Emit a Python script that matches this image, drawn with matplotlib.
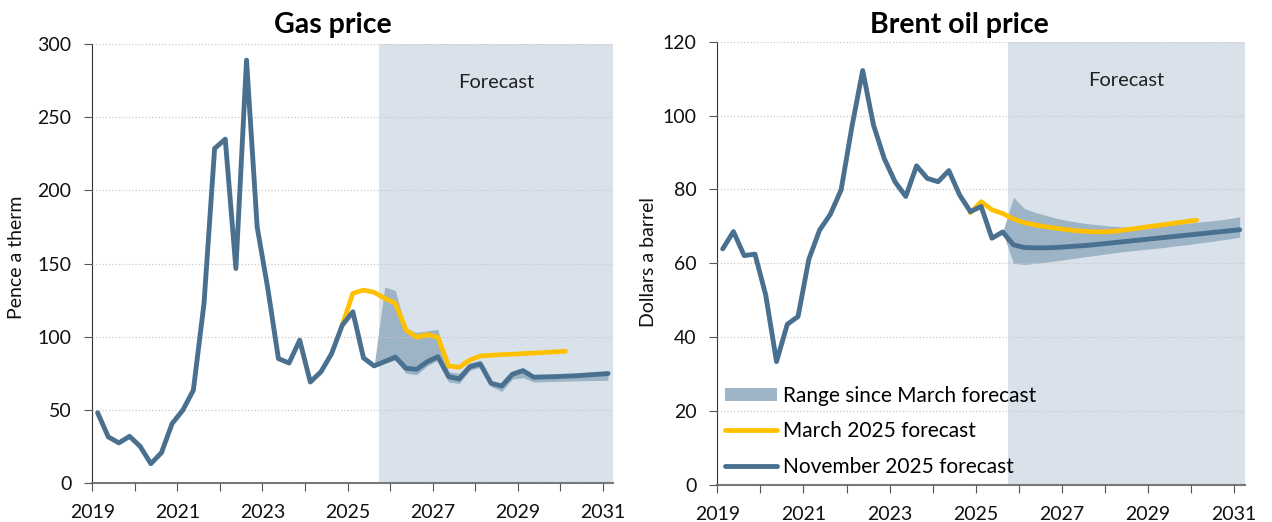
import matplotlib
matplotlib.use("Agg")
import matplotlib.pyplot as plt
from matplotlib.patches import Patch
from matplotlib.lines import Line2D
import numpy as np

plt.rcParams['font.family'] = ['Lato', 'DejaVu Sans']

BLUE = '#4a7090'
YELLOW = '#ffc000'
BAND = '#9db3c6'
SHADE = '#d9e2ea'

# quarterly series: 2019Q1 .. 2031Q1
gas_november = [48, 31.5, 27.4, 31.9, 25, 13.2, 20.7, 40.6, 49.7, 63.4, 122.6, 228.6,
                235, 146.6, 289, 175, 133, 85, 82, 97.6, 69, 76, 88.4, 107.8,
                117, 85.5, 80, 83, 86, 78.4, 77.7, 82.9, 86.3, 72.7, 71.1, 79.5,
                81.3, 68.1, 66.3, 74.3, 76.8, 72.3, 72.5, 72.7, 73.0, 73.3, 73.8, 74.3, 74.8]
# 2024Q4 .. 2030Q1
gas_march = [107.8, 129.6, 131.8, 130.3, 126.2, 122.8, 104.6, 99.6, 101.4, 99.6, 80,
             79.1, 84.1, 86.8, 87.3, 87.7, 88.0, 88.4, 88.8, 89.2, 89.6, 90.0]
# 2025Q3 .. 2031Q1
gas_range_hi = [80, 134, 131.5, 105, 103, 104, 105, 76, 75, 82, 84, 69.5, 67.5, 75.5,
                78, 73.5, 73.7, 73.9, 74.2, 74.5, 75, 75.5, 76]
gas_range_lo = [80, 82, 84, 75, 74, 80, 84, 69, 68, 77, 79, 66, 62.5, 71, 72, 69,
                69.2, 69.4, 69.6, 69.8, 70, 70, 70.2]

oil_november = [63.9, 68.6, 62.1, 62.5, 51.4, 33.4, 43.5, 45.6, 61.1, 69.0, 73.3, 79.9,
                97.0, 112.2, 97.5, 88.4, 82.1, 78.1, 86.4, 83.0, 82.1, 85.1, 78.5, 74.0,
                75.4, 66.8, 68.5, 65.0, 64.3, 64.2, 64.2, 64.3, 64.5, 64.7, 64.9, 65.2,
                65.5, 65.8, 66.1, 66.4, 66.7, 67.0, 67.3, 67.6, 67.9, 68.2, 68.5, 68.8, 69.1]
oil_march = [73.7, 76.7, 74.5, 73.5, 72.0, 71.0, 70.4, 69.9, 69.5, 69.1, 68.8, 68.6,
             68.5, 68.6, 68.9, 69.3, 69.7, 70.1, 70.5, 70.9, 71.3, 71.7]
oil_range_hi = [68.5, 77.9, 74.9, 73.8, 73.0, 72.2, 71.6, 71.1, 70.7, 70.4, 70.1, 69.9,
                69.8, 69.9, 70.1, 70.3, 70.5, 70.8, 71.1, 71.4, 71.7, 72.1, 72.6]
oil_range_lo = [68.5, 60.0, 59.7, 60.0, 60.3, 60.7, 61.1, 61.5, 61.9, 62.3, 62.7, 63.1,
                63.4, 63.7, 64.0, 64.3, 64.7, 65.0, 65.4, 65.8, 66.2, 66.6, 67.1]

year_ticks = list(range(2019, 2032))
year_labels = [str(y) if y % 2 == 1 else '' for y in year_ticks]
forecast_start = 2025.75


def quarters(start_year, start_q, n):
    return [start_year + (start_q - 1 + i + 0.5) / 4 for i in range(n)]


fig = plt.figure(figsize=(12.72, 5.22), dpi=100)
ax1 = fig.add_axes([0.0726, 0.0747, 0.4096, 0.8410])
ax2 = fig.add_axes([0.5639, 0.0709, 0.4149, 0.8492])

panels = [
    (ax1, gas_november, gas_march, gas_range_lo, gas_range_hi, 300, 50),
    (ax2, oil_november, oil_march, oil_range_lo, oil_range_hi, 120, 20),
]

for ax, nov, mar, lo, hi, ymax, ystep in panels:
    ax.axvspan(forecast_start, 2031.25, color=SHADE, lw=0, zorder=0.2)
    ax.fill_between(quarters(2025, 3, len(lo)), lo, hi, color=BAND, lw=0, zorder=2)
    ax.plot(quarters(2024, 4, len(mar)), mar, color=YELLOW, lw=3.4,
            solid_capstyle='round', solid_joinstyle='round', zorder=3)
    ax.plot(quarters(2019, 1, len(nov)), nov, color=BLUE, lw=3.5,
            solid_capstyle='round', solid_joinstyle='round', zorder=4)

    ax.set_xlim(2019, 2031.25)
    ax.set_ylim(0, ymax)
    ax.set_yticks(np.arange(0, ymax + 1, ystep))
    ax.set_xticks(year_ticks)
    ax.set_xticklabels(year_labels)
    ax.tick_params(axis='both', labelsize=14, length=6, color='#555555', labelcolor='#111111')
    ax.tick_params(axis='y', pad=9)
    ax.tick_params(axis='x', pad=9)
    ax.grid(axis='y', color='#c8c8c8', ls=':', lw=0.9, zorder=1)
    ax.set_axisbelow(False)
    for s in ['top', 'right']:
        ax.spines[s].set_visible(False)
    ax.spines['left'].set_color('#333333')
    ax.spines['bottom'].set_color('#777777')
    ax.spines['bottom'].set_linewidth(1.5)
    ax.text((forecast_start + 2031.25) / 2, 0.912, 'Forecast', transform=ax.get_xaxis_transform(),
            ha='center', va='center', fontsize=14.5, color='#222222')

fig.text(17 / 1272, 1 - 257 / 522, 'Pence a therm', rotation=90, ha='center', va='center',
         fontsize=14, color='#111111')
fig.text(649 / 1272, 1 - 262 / 522, 'Dollars a barrel', rotation=90, ha='center', va='center',
         fontsize=14, color='#111111')
fig.text(333 / 1272, 1 - 33 / 522, 'Gas price', ha='center', va='baseline',
         fontsize=20.5, fontweight='bold', color='#000000')
fig.text(959 / 1272, 1 - 33 / 522, 'Brent oil price', ha='center', va='baseline',
         fontsize=20.5, fontweight='bold', color='#000000')

handles = [Patch(facecolor=BAND, edgecolor='none'),
           Line2D([], [], color=YELLOW, lw=3.4, solid_capstyle='round'),
           Line2D([], [], color=BLUE, lw=3.5, solid_capstyle='round')]
labels = ['Range since March forecast', 'March 2025 forecast', 'November 2025 forecast']
ax2.legend(handles, labels, loc='lower left', bbox_to_anchor=(725 / 1272, 1 - 477 / 522),
           bbox_transform=fig.transFigure, frameon=False, fontsize=15,
           handlelength=2.5, handleheight=0.6, handletextpad=0.3, labelspacing=0.75,
           borderpad=0, borderaxespad=0)

fig.savefig('out.png', dpi=100)
